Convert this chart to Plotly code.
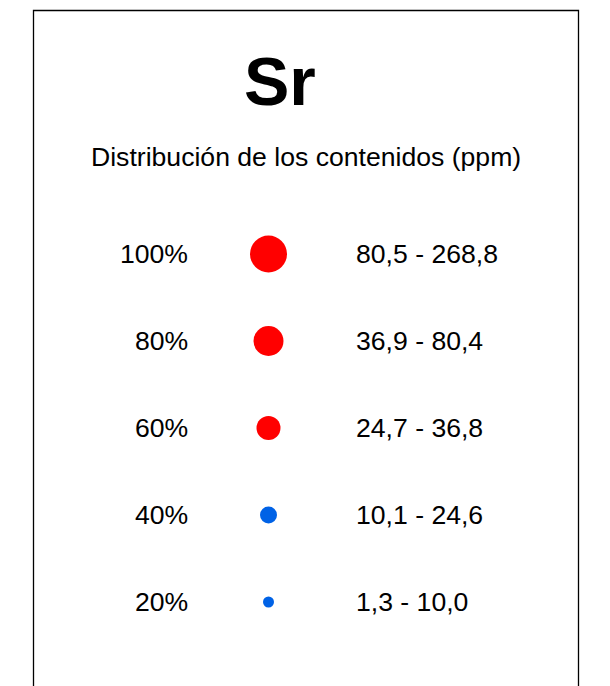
import plotly.graph_objects as go

# Data
title_text = "Sr"
subtitle_text = "Distribución de los contenidos (ppm)"
percent_labels = ["100%", "80%", "60%", "40%", "20%"]
range_labels = ["80,5 - 268,8", "36,9 - 80,4", "24,7 - 36,8", "10,1 - 24,6", "1,3 - 10,0"]
class_colors = ["#FF0000", "#FF0000", "#FF0000", "#0062E6", "#0062E6"]
marker_diam = [37, 30, 24, 17, 11]

rows = list(range(len(percent_labels)))

FONT = "Liberation Sans, Arial, Helvetica, sans-serif"
OFF = 8  # page body margin
W, H = 610 - OFF, 686 - OFF
FS = 26.6

fig = go.Figure()

# dots
fig.add_trace(go.Scatter(
    x=[268.5 - OFF] * len(rows), y=rows, mode="markers",
    marker=dict(size=marker_diam, color=class_colors, opacity=1, line=dict(width=0)),
    hoverinfo="skip", showlegend=False,
))

annotations = []
for r, p, rg in zip(rows, percent_labels, range_labels):
    annotations.append(dict(x=190 - OFF, y=r, xref="x", yref="y", text=p, showarrow=False,
                            xanchor="right", yanchor="middle",
                            font=dict(family=FONT, size=FS, color="black")))
    annotations.append(dict(x=354 - OFF, y=r, xref="x", yref="y", text=rg, showarrow=False,
                            xanchor="left", yanchor="middle",
                            font=dict(family=FONT, size=FS, color="black")))

annotations.append(dict(x=280 - OFF, y=1 - (81 - OFF) / H, xref="x", yref="paper",
                        text="<b>" + title_text + "</b>",
                        showarrow=False, xanchor="center", yanchor="middle",
                        font=dict(family=FONT, size=68, color="black")))
annotations.append(dict(x=306 - OFF, y=1 - (157 - OFF) / H, xref="x", yref="paper",
                        text=subtitle_text,
                        showarrow=False, xanchor="center", yanchor="middle",
                        font=dict(family=FONT, size=FS, color="black")))

row0_px, row_step = 254 - OFF, 87
y_top = -row0_px / row_step
y_bot = (H - row0_px) / row_step

fig.update_layout(
    width=W, height=H,
    margin=dict(l=0, r=0, t=0, b=0),
    paper_bgcolor="white", plot_bgcolor="white",
    xaxis=dict(range=[0, W], visible=False, fixedrange=True),
    yaxis=dict(range=[y_bot, y_top], visible=False, fixedrange=True),
    annotations=annotations,
    shapes=[dict(type="rect", xref="x", yref="paper", x0=33.5 - OFF, x1=578.5 - OFF,
                 y0=-0.05, y1=1 - (10.5 - OFF) / H, line=dict(color="black", width=1.3))],
    showlegend=False,
)

fig.write_html("out.html")
